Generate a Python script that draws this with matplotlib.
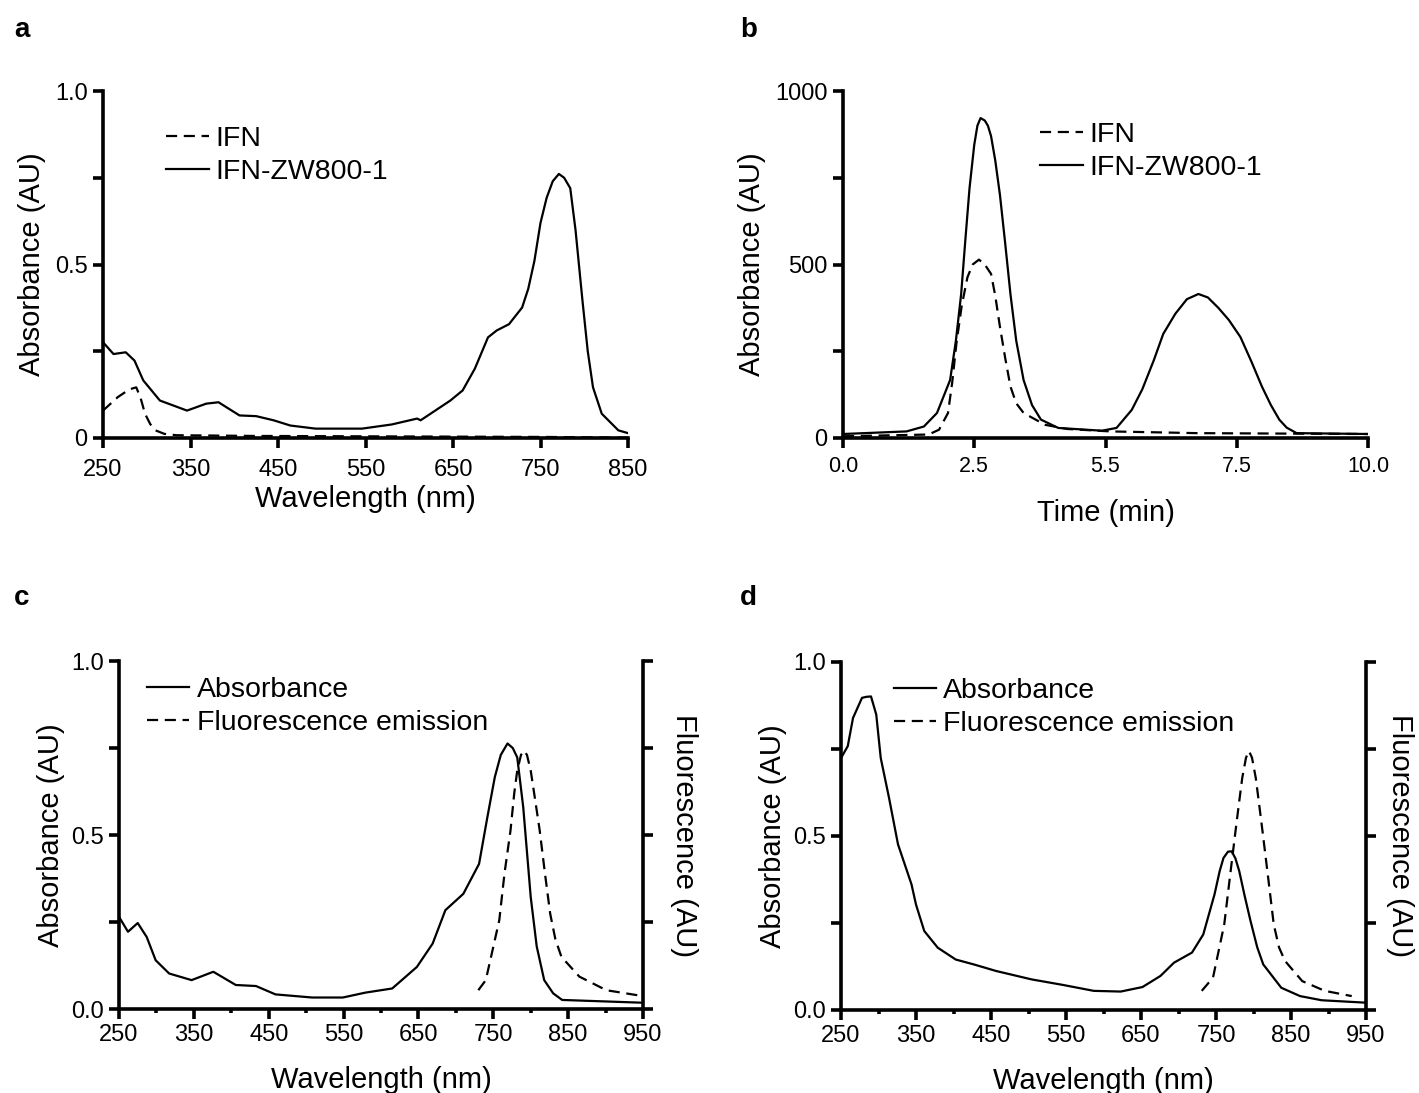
"""Four-panel spectra figure: IFN vs IFN-ZW800-1 absorbance, SEC trace,
absorbance / fluorescence emission overlays."""

import matplotlib

matplotlib.use("Agg")
import matplotlib.pyplot as plt  # noqa: E402
import numpy as np  # noqa: E402

plt.rcParams["font.family"] = ["Liberation Sans", "DejaVu Sans"]

# --- panel a: absorbance spectra -------------------------------------------
A_CONJ_NM = [250, 262, 276, 286, 296, 315, 346, 368, 382, 406, 425, 445, 464,
             493, 546, 580, 609, 613, 647, 661, 675, 690, 700, 714, 729, 736,
             743, 750, 757, 764, 771, 777, 784, 790, 798, 804, 810, 820, 839, 850]
A_CONJ = [0.276, 0.242, 0.247, 0.223, 0.166, 0.108, 0.079, 0.099, 0.103, 0.065,
          0.063, 0.051, 0.036, 0.027, 0.027, 0.039, 0.056, 0.051, 0.108, 0.137,
          0.200, 0.290, 0.310, 0.328, 0.376, 0.430, 0.510, 0.620, 0.692, 0.740,
          0.761, 0.750, 0.720, 0.600, 0.395, 0.250, 0.146, 0.070, 0.022, 0.014]
A_IFN_NM = [250, 267, 280, 288, 293, 298, 304, 310, 320, 334, 421, 757, 850]
A_IFN = [0.079, 0.118, 0.140, 0.146, 0.115, 0.070, 0.040, 0.022, 0.012, 0.008,
         0.006, 0.003, 0.001]

# --- panel b: chromatogram -------------------------------------------------
B_CONJ_T = [0, 1.21, 1.54, 1.79, 2.04, 2.15, 2.25, 2.33, 2.41, 2.50, 2.56, 2.62,
            2.70, 2.76, 2.82, 2.90, 2.99, 3.09, 3.19, 3.30, 3.44, 3.60, 3.77,
            4.10, 4.93, 5.21, 5.50, 5.70, 5.92, 6.10, 6.33, 6.55, 6.77, 6.95,
            7.15, 7.35, 7.57, 7.78, 7.98, 8.15, 8.31, 8.45, 8.64, 10.0]
B_CONJ = [11.5, 19, 33, 72, 167, 280, 414, 570, 720, 845, 900, 922, 915, 900,
          870, 800, 700, 560, 414, 280, 167, 95, 53, 29, 21, 29, 81, 140, 224,
          300, 358, 400, 415, 405, 375, 340, 291, 220, 148, 95, 53, 30, 14, 11.5]
B_IFN_T = [0, 1.63, 1.83, 2.0, 2.08, 2.16, 2.26, 2.37, 2.47, 2.59, 2.70, 2.82,
           2.90, 2.99, 3.09, 3.19, 3.30, 3.44, 3.85, 4.27, 5.09, 6.74, 10.0]
B_IFN = [5, 10, 24, 72, 160, 272, 380, 463, 500, 514, 500, 473, 410, 320, 230,
         148, 100, 72, 38, 26, 19, 14, 11.5]
B_TICKS = [0, 2.5, 5, 7.5, 10]
B_TICK_LABELS = ["0.0", "2.5", "5.5", "7.5", "10.0"]

# --- panel c: absorbance + emission -----------------------------------------
C_ABS_NM = [250, 262, 275, 287, 299, 317, 347, 376, 406, 433, 459, 508, 549,
            579, 615, 648, 669, 686, 710, 731, 742, 752, 760, 769, 776, 782,
            790, 800, 808, 818, 830, 842, 950]
C_ABS = [0.265, 0.222, 0.247, 0.207, 0.140, 0.102, 0.083, 0.107, 0.069, 0.066,
         0.042, 0.033, 0.033, 0.047, 0.059, 0.121, 0.188, 0.284, 0.331, 0.417,
         0.550, 0.666, 0.730, 0.763, 0.750, 0.723, 0.580, 0.322, 0.180, 0.083,
         0.045, 0.026, 0.018]
C_EM_NM = [730, 740, 758, 765, 773, 778, 782, 787, 791, 795, 800, 806, 812,
           819, 826, 833, 841, 865, 901, 950]
C_EM = [0.054, 0.083, 0.255, 0.390, 0.513, 0.620, 0.685, 0.730, 0.742, 0.730,
        0.685, 0.600, 0.513, 0.390, 0.274, 0.200, 0.150, 0.093, 0.054, 0.037]

# --- panel d: absorbance + emission -----------------------------------------
D_ABS_NM = [250, 259, 266, 278, 284, 290, 297, 303, 314, 326, 344, 350, 361,
            379, 403, 427, 457, 504, 546, 587, 623, 652, 676, 694, 718, 733,
            748, 755, 760, 766, 771, 776, 781, 788, 796, 805, 813, 837, 862,
            891, 950]
D_ABS = [0.724, 0.758, 0.839, 0.897, 0.900, 0.901, 0.849, 0.724, 0.610, 0.476,
         0.361, 0.303, 0.227, 0.179, 0.145, 0.131, 0.112, 0.088, 0.072, 0.055,
         0.053, 0.066, 0.098, 0.136, 0.165, 0.217, 0.332, 0.400, 0.437, 0.455,
         0.456, 0.435, 0.399, 0.330, 0.256, 0.180, 0.131, 0.064, 0.040, 0.028,
         0.021]
D_EM_NM = [731, 746, 761, 769, 776, 781, 785, 790, 794, 798, 803, 807, 812,
           819, 827, 834, 842, 865, 895, 931]
D_EM = [0.055, 0.093, 0.246, 0.390, 0.514, 0.600, 0.667, 0.725, 0.744, 0.725,
        0.667, 0.600, 0.514, 0.390, 0.246, 0.180, 0.141, 0.083, 0.055, 0.040]

W, H = 1419, 1093
LW = 1.6
SPINE = 2.6
DASH = (0, (5, 3))
LABEL_FS = 21
TICK_FS = 17
LEG_FS = 20.5


def _axes(fig, left, top, right, bottom):
    """Add axes from pixel box (left, top, right, bottom)."""
    return fig.add_axes([left / W, 1 - bottom / H, (right - left) / W, (bottom - top) / H])


def _style(ax, right_label_x=None):
    for side in ("top", "right"):
        ax.spines[side].set_visible(False)
    for side in ("left", "bottom"):
        ax.spines[side].set_linewidth(SPINE)
    ax.tick_params(which="major", direction="out", length=7, width=SPINE,
                   labelsize=TICK_FS, pad=4)
    ax.tick_params(which="minor", direction="out", length=3, width=SPINE)
    if right_label_x is not None:
        tw = ax.twinx()
        for side in ("top", "left", "bottom"):
            tw.spines[side].set_visible(False)
        tw.spines["right"].set_linewidth(SPINE)
        tw.set_ylim(0, 1)
        tw.set_yticks([0, 0.25, 0.5, 0.75, 1.0])
        tw.set_yticklabels([])
        tw.tick_params(direction="out", length=7, width=SPINE)
        tw.set_ylabel("Fluorescence (AU)", fontsize=LABEL_FS, rotation=-90)
        tw.yaxis.set_label_coords(right_label_x, 0.5)
        tw.yaxis.label.set_va("center")
        return tw
    return None


def _legend(ax, handles, labels, x, y):
    ax.legend(handles, labels, loc="upper left", bbox_to_anchor=(x, y),
              frameon=False, fontsize=LEG_FS, handlelength=1.5,
              handletextpad=0.25, labelspacing=0.25, borderaxespad=0,
              borderpad=0)


fig = plt.figure(figsize=(W / 100, H / 100), dpi=100)

# a
ax = _axes(fig, 103, 91, 628, 438)
l_ifn, = ax.plot(A_IFN_NM, A_IFN, color="black", lw=LW, linestyle=DASH)
l_conj, = ax.plot(A_CONJ_NM, A_CONJ, color="black", lw=LW)
ax.set_xlim(250, 850)
ax.set_ylim(0, 1)
ax.set_xticks(np.arange(250, 851, 100))
ax.set_yticks([0, 0.25, 0.5, 0.75, 1.0])
ax.set_yticklabels(["0", "", "0.5", "", "1.0"])
_style(ax)
ax.tick_params(axis="x", pad=8)
ax.set_xlabel("Wavelength (nm)", fontsize=LABEL_FS)
ax.xaxis.set_label_coords(0.5, -0.135)
ax.set_ylabel("Absorbance (AU)", fontsize=LABEL_FS)
ax.yaxis.set_label_coords(-0.135, 0.5)
ax.yaxis.label.set_va("center")
_legend(ax, [l_ifn, l_conj], ["IFN", "IFN-ZW800-1"], 0.12, 0.9)
fig.text(14 / W, 1 - 30 / H, "a", fontsize=20, fontweight="bold", va="center")

# b
ax = _axes(fig, 843, 91, 1368, 438)
l_ifn, = ax.plot(B_IFN_T, B_IFN, color="black", lw=LW, linestyle=DASH)
l_conj, = ax.plot(B_CONJ_T, B_CONJ, color="black", lw=LW)
ax.set_xlim(0, 10)
ax.set_ylim(0, 1000)
ax.set_xticks(B_TICKS)
ax.set_xticklabels(B_TICK_LABELS)
ax.set_yticks([0, 250, 500, 750, 1000])
ax.set_yticklabels(["0", "", "500", "", "1000"])
_style(ax)
ax.tick_params(axis="x", labelsize=15.5, pad=6)
ax.set_xlabel("Time (min)", fontsize=LABEL_FS)
ax.xaxis.set_label_coords(0.5, -0.175)
ax.set_ylabel("Absorbance (AU)", fontsize=LABEL_FS)
ax.yaxis.set_label_coords(-0.173, 0.5)
ax.yaxis.label.set_va("center")
_legend(ax, [l_ifn, l_conj], ["IFN", "IFN-ZW800-1"], 0.375, 0.91)
fig.text(740 / W, 1 - 30 / H, "b", fontsize=20, fontweight="bold", va="center")

# c and d
for (left, right, bottom, abs_nm, absb, em_nm, em, letter, lx, leg_x, rx) in (
        (119, 643, 1009, C_ABS_NM, C_ABS, C_EM_NM, C_EM, "c", 14, 0.053, 1.078),
        (841, 1366, 1010, D_ABS_NM, D_ABS, D_EM_NM, D_EM, "d", 740, 0.10, 1.064)):
    ax = _axes(fig, left, bottom - 348, right, bottom)
    l_abs, = ax.plot(abs_nm, absb, color="black", lw=LW)
    l_em, = ax.plot(em_nm, em, color="black", lw=LW, linestyle=DASH)
    ax.set_xlim(250, 950)
    ax.set_ylim(0, 1)
    ax.set_xticks(np.arange(250, 951, 100))
    ax.set_xticks(np.arange(300, 951, 100), minor=True)
    ax.set_yticks([0, 0.25, 0.5, 0.75, 1.0])
    ax.set_yticklabels(["0.0", "", "0.5", "", "1.0"])
    _style(ax, right_label_x=rx)
    ax.set_xlabel("Wavelength (nm)", fontsize=LABEL_FS)
    ax.xaxis.set_label_coords(0.5, -0.165)
    ax.set_ylabel("Absorbance (AU)", fontsize=LABEL_FS)
    ax.yaxis.set_label_coords(-0.13, 0.5)
    ax.yaxis.label.set_va("center")
    _legend(ax, [l_abs, l_em], ["Absorbance", "Fluorescence emission"], leg_x, 0.955)
    fig.text(lx / W, 1 - 598 / H, letter, fontsize=20, fontweight="bold", va="center")

fig.savefig("out.png", dpi=100)
